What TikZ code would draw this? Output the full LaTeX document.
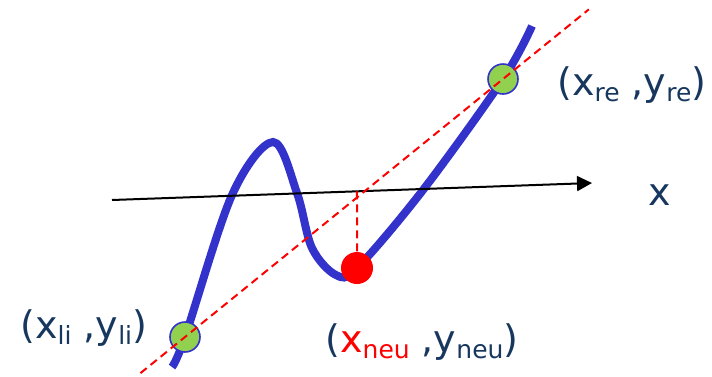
\documentclass[tikz,border=0pt]{standalone}
\usepackage{fontspec}
\setmainfont{DejaVu Sans}
\usetikzlibrary{arrows.meta,calc,intersections}
\definecolor{navy}{RGB}{23,55,94}
\definecolor{curveblue}{RGB}{51,51,204}
\definecolor{ptgreen}{RGB}{146,208,80}
\newcommand\lowsub[1]{\raisebox{-0.18em}{\fontsize{12.5}{12.5}\selectfont #1}}

\begin{document}
\begin{tikzpicture}[x=0.5pt,y=-0.5pt,
  curve/.style={curveblue,line width=4pt,line cap=butt},
  secant/.style={red,line width=1pt,dash pattern=on 4pt off 2.5pt},
  greendot/.style={circle,fill=ptgreen,draw=curveblue,line width=0.8pt,minimum size=15pt,inner sep=0pt},
  reddot/.style={circle,fill=red,minimum size=16pt,inner sep=0pt},
  lbl/.style={navy,font=\fontsize{19}{23}\selectfont,inner sep=0pt,anchor=base west}]
 \useasboundingbox (0,0) rectangle (712,376);
 \coordinate (pl) at (185,337);
 \coordinate (pr) at (503,79);
 \coordinate (pn) at (357,268);
 \coordinate (ax0) at (112,200);
 \coordinate (ax1) at (592,183);
 % the function
 \draw[curve] plot[smooth,tension=0.55] coordinates {(172,367) (pl) (232,195) (273,142) (297,193)
   (312,248) (336,275) (pn) (423,190) (pr) (532,26)};
 \node[greendot] (li) at (pl) {};
 \node[greendot] (re) at (pr) {};
 % x axis
 \draw[line width=1pt,-{Triangle[length=7.5pt,width=7.5pt]},name path=axisline] (ax0) -- (ax1);
 \node[navy,font=\fontsize{19}{23}\selectfont] (xlab) at (660,195) {x};
 % secant and new point
 \draw[secant] ($(li)!-0.14!(re)$) -- ($(li)!1.27!(re)$);
 \path[name path=vline] (pn) -- ++(0,-150);
 \path[name intersections={of=axisline and vline,by=foot}];
 \draw[secant] (foot) -- (pn);
 \node[reddot] (neu) at (pn) {};
 % labels
 \node[lbl] (lblre) at (557,95) {(x\lowsub{re} ,y\lowsub{re})};
 \node[lbl] (lblli) at (20,338) {(x\lowsub{li} ,y\lowsub{li})};
 \node[lbl] (lblneu) at (325,352) {(\textcolor{red}{x\lowsub{neu}} ,y\lowsub{neu})};
\end{tikzpicture}
\end{document}
